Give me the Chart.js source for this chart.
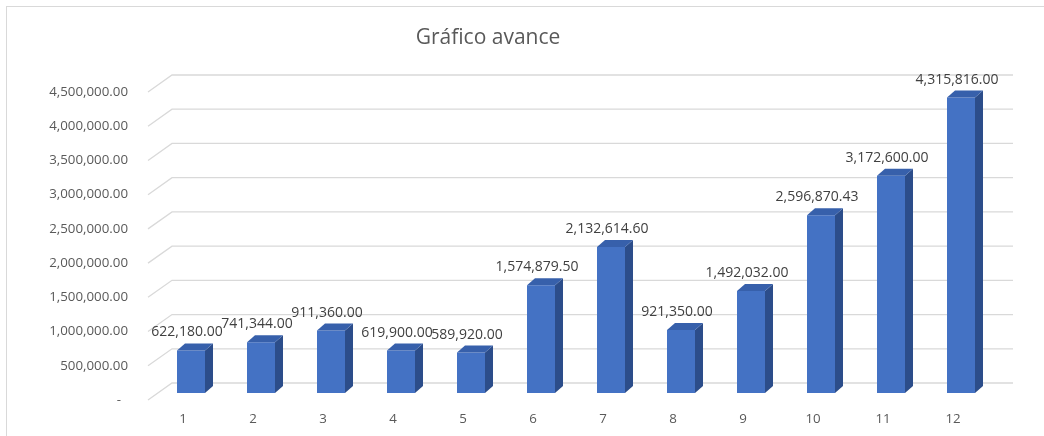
<!DOCTYPE html>
<html>
<head>
<meta charset="utf-8">
<script src="https://cdn.jsdelivr.net/npm/chart.js@4"></script>
<style>
  html, body { margin: 0; padding: 0; background: #fff; overflow: hidden; }
  #frame { position: absolute; left: 6px; top: 6px; width: 1200px; height: 600px; border: 1px solid #d9d9d9; }
  #wrap { position: absolute; left: 0; top: 0; width: 1044px; height: 436px; }
</style>
</head>
<body>
<div id="frame"></div>
<div id="wrap"><canvas id="avance"></canvas></div>
<script>
const categories = ['1', '2', '3', '4', '5', '6', '7', '8', '9', '10', '11', '12'];
const avanceValues = [622180.00, 741344.00, 911360.00, 619900.00, 589920.00, 1574879.50,
    2132614.60, 921350.00, 1492032.00, 2596870.43, 3172600.00, 4315816.00];
const yTicks = [0, 500000, 1000000, 1500000, 2000000, 2500000, 3000000, 3500000, 4000000, 4500000];

const chartTitle = 'Gráfico avance';
const fontName = '"Open Sans", sans-serif';

const fmt = new Intl.NumberFormat('en-US', { minimumFractionDigits: 2, maximumFractionDigits: 2 });

// fake 3d: back wall and bar depth offsets
const wall = { backDx: 16, backDy: -10, frontDx: -8, frontDy: 7, backRight: 1013 };
const barDepth = { dx: 8, dy: -7 };

const backWallPlugin = {
    id: 'backWall',
    beforeDatasetsDraw(chart) {
        const ctx = chart.ctx;
        const y = chart.scales.y;
        const left = chart.chartArea.left;
        ctx.save();
        ctx.strokeStyle = '#d9d9d9';
        ctx.lineWidth = 1.3;
        yTicks.forEach(function(v) {
            const py = y.getPixelForValue(v);
            ctx.beginPath();
            ctx.moveTo(left + wall.frontDx, py + wall.frontDy);
            ctx.lineTo(left + wall.backDx, py + wall.backDy);
            ctx.lineTo(wall.backRight, py + wall.backDy);
            ctx.stroke();
        });
        ctx.restore();
    }
};

const barFacesPlugin = {
    id: 'barFaces',
    afterDatasetsDraw(chart) {
        const ctx = chart.ctx;
        const meta = chart.getDatasetMeta(0);
        ctx.save();
        meta.data.forEach(function(bar, i) {
            const l = bar.x - bar.width / 2;
            const r = bar.x + bar.width / 2;
            // side
            ctx.fillStyle = '#2c4d8a';
            ctx.beginPath();
            ctx.moveTo(r, bar.y);
            ctx.lineTo(r + barDepth.dx, bar.y + barDepth.dy);
            ctx.lineTo(r + barDepth.dx, bar.base + barDepth.dy);
            ctx.lineTo(r, bar.base);
            ctx.closePath();
            ctx.fill();
            // top
            ctx.fillStyle = '#3760ab';
            ctx.beginPath();
            ctx.moveTo(l, bar.y);
            ctx.lineTo(l + barDepth.dx, bar.y + barDepth.dy);
            ctx.lineTo(r + barDepth.dx, bar.y + barDepth.dy);
            ctx.lineTo(r, bar.y);
            ctx.closePath();
            ctx.fill();
            // value label
            ctx.fillStyle = '#404040';
            ctx.font = '14px ' + fontName;
            ctx.textAlign = 'center';
            ctx.textBaseline = 'middle';
            ctx.fillText(fmt.format(avanceValues[i]), bar.x - 4, bar.y - 18);
        });
        // title
        ctx.fillStyle = '#595959';
        ctx.font = '21px ' + fontName;
        ctx.textAlign = 'center';
        ctx.textBaseline = 'middle';
        ctx.fillText(chartTitle, 488, 38);
        ctx.restore();
    }
};

const config = {
    type: 'bar',
    data: {
        labels: categories,
        datasets: [{
            label: 'Avance',
            data: avanceValues,
            backgroundColor: '#4472c4',
            borderWidth: 0,
            categoryPercentage: 1,
            barPercentage: 0.4
        }]
    },
    options: {
        responsive: true,
        maintainAspectRatio: false,
        animation: false,
        layout: {
            padding: { left: 36, right: 48, top: 85, bottom: 2 }
        },
        plugins: {
            legend: { display: false },
            title: { display: false },
            tooltip: { enabled: false }
        },
        scales: {
            x: {
                grid: { display: false, drawTicks: false },
                border: { display: false },
                ticks: {
                    color: '#595959',
                    font: { family: fontName, size: 13.3 },
                    padding: 18,
                    labelOffset: -8,
                    maxRotation: 0
                },
                afterFit(scale) { scale.height = 41; }
            },
            y: {
                min: 0,
                max: 4500000,
                grid: { display: false, drawTicks: false },
                border: { display: false },
                ticks: {
                    stepSize: 500000,
                    color: '#595959',
                    font: { family: fontName, size: 13.3 },
                    padding: 28,
                    labelOffset: 7,
                    callback: function(v) { return v === 0 ? '-  ' : fmt.format(v); }
                },
                afterFit(scale) { scale.width = 120; }
            }
        }
    },
    plugins: [backWallPlugin, barFacesPlugin]
};

const avanceChart = new Chart(document.getElementById('avance').getContext('2d'), config);
</script>
</body>
</html>
